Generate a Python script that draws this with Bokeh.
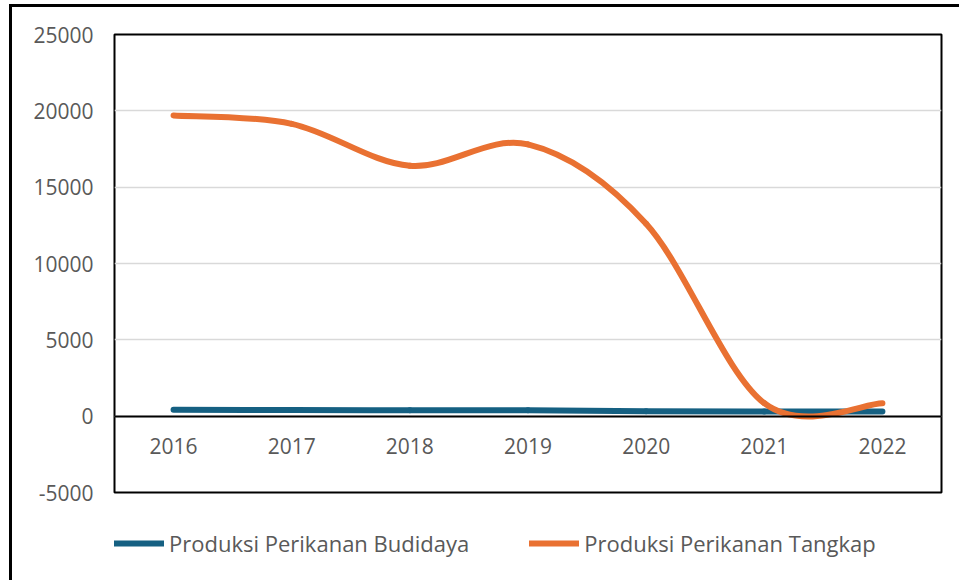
from bokeh.plotting import figure
from bokeh.layouts import column
from bokeh.models import (Range1d, FixedTicker, LinearAxis, Legend, LegendItem,
                          ColumnDataSource, PrintfTickFormatter)
from bokeh.embed import file_html
from bokeh.resources import INLINE

# ---- data ----
years = [2016, 2017, 2018, 2019, 2020, 2021, 2022]
budidaya = [420, 400, 390, 380, 320, 310, 300]
tangkap = [19700, 19150, 16400, 17800, 12600, 850, 840]
series_names = ["Produksi Perikanan Budidaya", "Produksi Perikanan Tangkap"]
series_colors = ["#156082", "#E97132"]
y_ticks = [-5000, 0, 5000, 10000, 15000, 20000, 25000]

FONT = "Open Sans"
TXT = "#595959"


def smooth_segments(xs, ys):
    """Catmull-Rom style bezier segments (Excel 'smoothed line')."""
    n = len(xs)
    out = dict(x0=[], y0=[], x1=[], y1=[], cx0=[], cy0=[], cx1=[], cy1=[])
    for i in range(n - 1):
        ip = max(i - 1, 0)
        inn = min(i + 2, n - 1)
        out["x0"].append(xs[i]); out["y0"].append(ys[i])
        out["x1"].append(xs[i + 1]); out["y1"].append(ys[i + 1])
        out["cx0"].append(xs[i] + (xs[i + 1] - xs[ip]) / 6.0)
        out["cy0"].append(ys[i] + (ys[i + 1] - ys[ip]) / 6.0)
        out["cx1"].append(xs[i + 1] - (xs[inn] - xs[i]) / 6.0)
        out["cy1"].append(ys[i + 1] - (ys[inn] - ys[i]) / 6.0)
    return out


W = 947
H1 = 501
H2 = 573 - H1

# ---------------- main chart ----------------
p = figure(width=W, height=H1, output_backend="svg", toolbar_location=None,
           x_range=Range1d(2015.5, 2022.5), y_range=Range1d(-5000, 25000),
           x_axis_location=None, y_axis_location="left",
           min_border_left=102, min_border_top=27, min_border_right=18,
           min_border_bottom=16)

p.outline_line_color = "black"
p.outline_line_width = 2
p.background_fill_color = "white"
p.border_fill_color = "white"

p.xgrid.visible = False
p.ygrid.ticker = FixedTicker(ticks=y_ticks)
p.ygrid.grid_line_color = "#D9D9D9"
p.ygrid.grid_line_width = 1.5

ya = p.yaxis[0]
ya.ticker = FixedTicker(ticks=y_ticks)
ya.formatter = PrintfTickFormatter(format="%d")
ya.axis_line_color = None
ya.major_tick_line_color = None
ya.minor_tick_line_color = None
ya.major_tick_out = 0
ya.major_tick_in = 0
ya.major_label_standoff = 21
ya.major_label_text_font = FONT
ya.major_label_text_font_size = "21px"
ya.major_label_text_color = TXT

# category axis sitting on the zero line
xa = LinearAxis(fixed_location=0, ticker=FixedTicker(ticks=years))
xa.formatter = PrintfTickFormatter(format="%d")
xa.axis_line_color = "black"
xa.axis_line_width = 2
xa.major_tick_line_color = None
xa.minor_tick_line_color = None
xa.major_tick_out = 0
xa.major_tick_in = 0
xa.major_label_standoff = 22
xa.major_label_text_font = FONT
xa.major_label_text_font_size = "21px"
xa.major_label_text_color = TXT
p.add_layout(xa, "below")

for vals, col in zip([budidaya, tangkap], series_colors):
    src = ColumnDataSource(smooth_segments(years, vals))
    p.bezier(x0="x0", y0="y0", x1="x1", y1="y1", cx0="cx0", cy0="cy0",
             cx1="cx1", cy1="cy1", source=src, line_color=col, line_width=6,
             line_cap="round")

# ---------------- legend strip ----------------
q = figure(width=W, height=H2, output_backend="svg", toolbar_location=None,
           x_range=Range1d(0, 1), y_range=Range1d(0, 1),
           x_axis_location=None, y_axis_location=None,
           min_border_left=0, min_border_right=0, min_border_top=0,
           min_border_bottom=0)
q.outline_line_color = None
q.xgrid.visible = False
q.ygrid.visible = False
q.border_fill_color = "white"
q.background_fill_color = "white"

items = []
for vals, name, col in zip([budidaya, tangkap], series_names, series_colors):
    r = q.line(x=years, y=vals, line_color=col, line_width=6, line_cap="round")
    items.append(LegendItem(label=name, renderers=[r]))

legend = Legend(items=items, orientation="horizontal", location=(0, 21))
legend.label_text_font = FONT
legend.label_text_font_size = "22px"
legend.label_text_color = TXT
legend.glyph_width = 50
legend.glyph_height = 32
legend.label_height = 32
legend.label_standoff = 5
legend.spacing = 60
legend.padding = 0
legend.margin = 0
legend.border_line_color = None
legend.background_fill_alpha = 0
q.add_layout(legend, "center")

layout = column(p, q, spacing=0)
layout.styles = {"margin-left": "9px", "margin-top": "4px",
                 "border-left": "3px solid black", "border-top": "3px solid black"}

open("out.html", "w").write(file_html(layout, INLINE))
